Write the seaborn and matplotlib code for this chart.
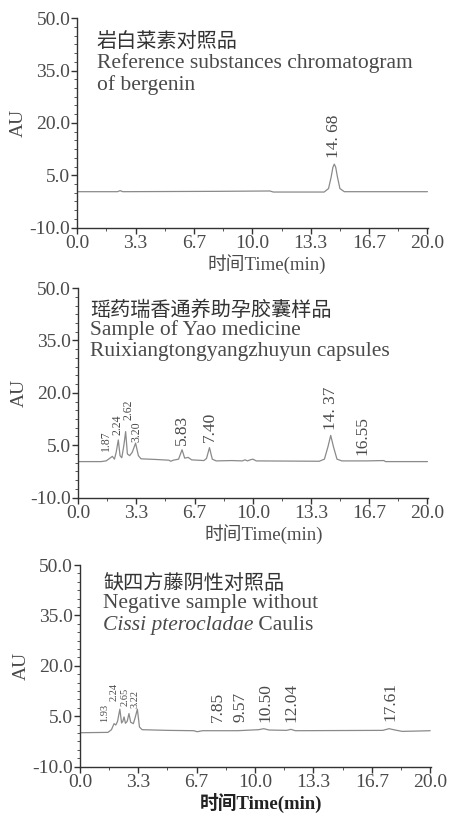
import numpy as np
import pandas as pd
import seaborn as sns
import matplotlib.pyplot as plt
from matplotlib.ticker import MultipleLocator, FixedLocator, AutoMinorLocator

# ---- data (time in min, AU) ----
ref_time = [0.0, 2.3, 2.45, 2.6, 8.0, 11.0, 11.2, 14.1, 14.35, 14.5, 14.6, 14.68,
            14.76, 14.86, 15.0, 15.25, 17.0, 20.0]
ref_au = [0.3, 0.3, 0.6, 0.3, 0.4, 0.5, 0.2, 0.2, 1.2, 4.5, 7.3, 8.2,
          7.3, 4.5, 1.2, 0.3, 0.3, 0.3]

sample_time = [0.0, 1.3, 1.6, 1.8, 1.96, 2.08, 2.18, 2.3, 2.4, 2.5, 2.62, 2.72, 2.82,
               2.95, 3.1, 3.29, 3.45, 3.6, 4.5, 5.2, 5.3, 5.45, 5.75, 5.95, 6.1, 6.3,
               6.5, 7.2, 7.35, 7.52, 7.68, 7.9, 8.8, 9.4, 9.55, 9.7, 9.85, 10.0, 10.2,
               13.8, 14.1, 14.3, 14.46, 14.62, 14.82, 15.1, 16.5, 17.5, 17.6, 20.0]
sample_au = [0.3, 0.3, 0.5, 1.2, 1.8, 1.0, 3.0, 6.5, 2.0, 1.4, 5.0, 8.9, 2.5,
             2.0, 3.0, 5.6, 2.0, 1.1, 0.9, 0.7, 0.4, 0.7, 1.0, 3.7, 1.3, 1.5,
             0.8, 0.6, 1.2, 4.3, 1.0, 0.5, 0.6, 0.5, 0.8, 0.5, 0.8, 1.0, 0.5,
             0.4, 1.0, 4.5, 7.8, 4.5, 1.0, 0.5, 0.5, 0.6, 0.3, 0.3]

neg_time = [0.0, 1.6, 1.8, 1.95, 2.05, 2.15, 2.28, 2.38, 2.45, 2.52, 2.6, 2.7, 2.8,
            2.9, 3.05, 3.15, 3.28, 3.4, 3.55, 5.0, 6.5, 6.7, 7.0, 9.0, 10.2, 10.5,
            10.8, 11.8, 12.05, 12.3, 17.3, 17.65, 18.0, 18.4, 19.3, 20.0]
neg_au = [0.1, 0.2, 1.0, 2.8, 2.4, 3.5, 7.1, 3.0, 3.5, 4.8, 2.9, 3.5, 5.8,
          3.2, 2.8, 4.5, 7.1, 1.8, 1.0, 0.8, 0.7, 0.4, 0.7, 0.7, 1.0, 1.3,
          0.9, 0.8, 1.1, 0.7, 0.8, 1.3, 0.9, 0.5, 0.6, 0.7]

# peak labels: (text, x, y of label bottom, size)
ref_labels = [("14. 68", 14.68, 10.0, "big")]
sample_labels = [("1.87", 1.62, 3.3, "small"), ("2.24", 2.27, 8.0, "small"),
                 ("2.62", 2.88, 12.3, "small"), ("3.20", 3.35, 6.0, "small"),
                 ("5.83", 5.95, 5.0, "big"), ("7.40", 7.52, 6.0, "big"),
                 ("14. 37", 14.5, 9.4, "big"), ("16.55", 16.3, 2.2, "big")]
neg_labels = [("1.93", 1.42, 3.3, "small"), ("2.24", 1.97, 9.6, "small"),
              ("2.65", 2.55, 8.1, "small"), ("3.22", 3.15, 7.6, "small"),
              ("7.85", 7.88, 3.3, "big"), ("9.57", 9.15, 3.3, "big"),
              ("10.50", 10.6, 3.3, "big"), ("12.04", 12.06, 3.3, "big"),
              ("17.61", 17.76, 3.6, "big")]

titles_cn = ["岩白菜素对照品", "瑶药瑞香通养助孕胶囊样品", "缺四方藤阴性对照品"]
titles_en = [["Reference substances chromatogram", "of bergenin"],
             ["Sample of Yao medicine", "Ruixiangtongyangzhuyun capsules"],
             ["Negative sample without", None]]

x_ticks = [0.0, 20 / 6, 40 / 6, 10.0, 80 / 6, 100 / 6, 20.0]
y_ticks = [-10.0, 5.0, 20.0, 35.0, 50.0]

sns.set_theme(style="ticks")
fonts = ["Liberation Serif", "Noto Sans CJK SC"]
plt.rcParams["font.family"] = fonts
txt = "#4a4a4a"
line_col = "#8a8a8a"

fig = plt.figure(figsize=(4.49, 8.13), dpi=100)
boxes = [[0.172, 0.720, 0.782, 0.2576],
         [0.174, 0.388, 0.780, 0.2576],
         [0.178, 0.057, 0.782, 0.248]]
traces = [(ref_time, ref_au), (sample_time, sample_au), (neg_time, neg_au)]
labels = [ref_labels, sample_labels, neg_labels]
text_pos = [(0.055, 0.93, 0.786, 0.68), (0.034, 0.936, 0.80, 0.697), (0.066, 0.95, 0.81, 0.70)]
xlabel_x = [0.54, 0.53, 0.516]
small_fs = [8.5, 8.5, 7.5]

for i in range(3):
    ax = fig.add_axes(boxes[i])
    df = pd.DataFrame({"time": traces[i][0], "au": traces[i][1]})
    sns.lineplot(data=df, x="time", y="au", ax=ax, color=line_col, lw=0.9)

    ax.set_xlim(0, 20.05)
    ax.set_ylim(-10, 50)
    sns.despine(ax=ax)
    for s in ["left", "bottom"]:
        ax.spines[s].set_color("#333333")
        ax.spines[s].set_linewidth(1.0)
    ax.xaxis.set_major_locator(FixedLocator(x_ticks))
    ax.set_xticklabels([f"{v:.1f}" for v in x_ticks])
    ax.xaxis.set_minor_locator(AutoMinorLocator(2))
    ax.yaxis.set_major_locator(FixedLocator(y_ticks))
    ax.set_yticklabels([f"{v:.1f}" for v in y_ticks])
    ax.yaxis.set_minor_locator(MultipleLocator(2.5))
    ax.tick_params(which="major", length=4, width=1.0, color="#333333",
                   labelsize=14, labelcolor=txt, pad=1)
    ax.tick_params(which="minor", length=2, width=0.7, color="#555555")

    ax.set_ylabel("AU", fontsize=14, color=txt, labelpad=2)
    weight = "bold" if i == 2 else "normal"
    ax.set_xlabel("时间Time(min)", fontsize=13.5, color="#222222" if i == 2 else txt,
                  fontweight=weight, labelpad=2)
    ax.xaxis.label.set_x(xlabel_x[i])

    for lab, x, y, size in labels[i]:
        fs = small_fs[i] if size == "small" else 12.5
        ax.text(x, y, lab, rotation=90, ha="center", va="bottom", fontsize=fs, color=txt)

    tx, y_cn, y_l2, y_l3 = text_pos[i]
    ax.text(tx, y_cn, titles_cn[i], transform=ax.transAxes, fontsize=14.5,
            color="#333333", va="top", ha="left")
    ax.text(tx, y_l2, titles_en[i][0], transform=ax.transAxes, fontsize=15.5,
            color=txt, va="center", ha="left")
    if titles_en[i][1] is not None:
        ax.text(tx, y_l3, titles_en[i][1], transform=ax.transAxes, fontsize=15.5,
                color=txt, va="center", ha="left")
    else:
        t1 = ax.text(tx, y_l3, "Cissi pterocladae", transform=ax.transAxes, fontsize=15.5,
                     color=txt, va="center", ha="left", style="italic")
        ax.annotate(" Caulis", xy=(1, 0.5), xycoords=t1, va="center", ha="left",
                    fontsize=15.5, color=txt)

fig.savefig("out.png", dpi=100)
